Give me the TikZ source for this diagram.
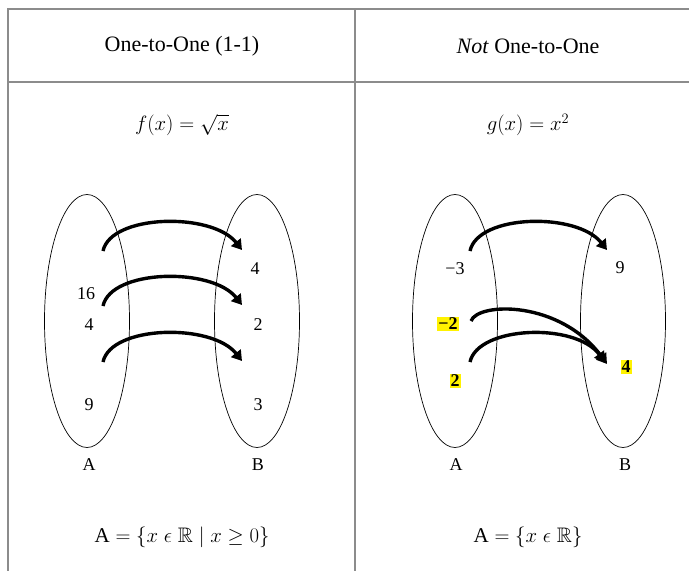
\documentclass[tikz,border=0pt]{standalone}
\usepackage{amssymb}
\usepackage{fontspec}
\setmainfont{Liberation Serif}
\usetikzlibrary{shapes.geometric,arrows.meta}
\begin{document}
\begin{tikzpicture}[x=1pt,y=-1pt,
  rule/.style={draw=black!45,line width=1.3pt},
  setoval/.style={draw,ellipse,line width=0.7pt,inner sep=0pt,minimum width=85pt,minimum height=253pt},
  elem/.style={font=\fontsize{18}{21}\selectfont,inner sep=1pt},
  hl/.style={elem,fill=yellow,font=\fontsize{18}{21}\selectfont\bfseries},
  head/.style={font=\fontsize{22}{26}\selectfont},
  formula/.style={font=\fontsize{21}{25}\selectfont},
  setlbl/.style={font=\fontsize{18}{21}\selectfont},
  maparrow/.style={line width=3.4pt,-{Triangle[length=10pt,width=12pt]}}]
\useasboundingbox (0,0) rectangle (689,571);
% table rules
\coordinate (tl) at (8,9);
\coordinate (tr) at (689,9);
\coordinate (hl) at (8,82);
\coordinate (hr) at (689,82);
\coordinate (bl) at (8,571);
\coordinate (mt) at (355,9);
\coordinate (mb) at (355,571);
\draw[rule] (tr) -- (tl) -- (bl);
\draw[rule] (hl) -- (hr);
\draw[rule] (mt) -- (mb);
% headers
\node[head] (h1) at (182,46) {One-to-One (1-1)};
\node[head] (h2) at (528,46) {\textit{Not} One-to-One};
% formulas
\node[formula] (f1) at (182,125) {$f(x)=\sqrt{x}$};
\node[formula] (f2) at (528,125) {$g(x)=x^2$};
\node[formula] (d1) at (182,537) {$\mathrm{A}=\{x\mathrel{\epsilon}\mathbb{R}\mid x\geq 0\}$};
\node[formula] (d2) at (528,537) {$\mathrm{A}=\{x\mathrel{\epsilon}\mathbb{R}\}$};
% left panel
\node[setoval] (LA) at (87,321) {};
\node[setoval] (LB) at (257,321) {};
\node[elem] (l16) at (86,294) {16};
\node[elem] (l4) at (89,325) {4};
\node[elem] (l9) at (89,405) {9};
\node[elem] (r4) at (255,269) {4};
\node[elem] (r2) at (258,325) {2};
\node[elem] (r3) at (258,405) {3};
\node[setlbl] (lAl) at (89,465) {A};
\node[setlbl] (lBl) at (258,465) {B};
\coordinate (ls1) at (103,251); \coordinate (le1) at (242,250);
\coordinate (ls2) at (103,306); \coordinate (le2) at (242,305);
\coordinate (ls3) at (103,362); \coordinate (le3) at (242,361);
\draw[maparrow] (ls1) .. controls (111,214) and (212,212) .. (le1);
\draw[maparrow] (ls2) .. controls (111,269) and (212,267) .. (le2);
\draw[maparrow] (ls3) .. controls (111,325) and (212,323) .. (le3);
% right panel
\node[setoval] (RA) at (455,321) {};
\node[setoval] (RB) at (623,321) {};
\node[elem] (m3) at (455,269) {−3};
\node[hl] (m2) at (448,324) {−2};
\node[hl] (p2) at (455,381) {2};
\node[elem] (n9) at (620,268) {9};
\node[hl] (n4) at (626,367) {4};
\node[setlbl] (rAl) at (456,465) {A};
\node[setlbl] (rBl) at (625,465) {B};
\coordinate (rs1) at (470,251); \coordinate (re1) at (607,250);
\coordinate (rs2) at (471,321); \coordinate (re2) at (607,364);
\coordinate (rs3) at (470,362); \coordinate (re3) at (605,362);
\draw[maparrow] (rs1) .. controls (478,214) and (577,212) .. (re1);
\draw[maparrow] (rs2) .. controls (478,302) and (560,300) .. (re2);
\draw[maparrow] (rs3) .. controls (478,326) and (575,322) .. (re3);
\end{tikzpicture}
\end{document}
